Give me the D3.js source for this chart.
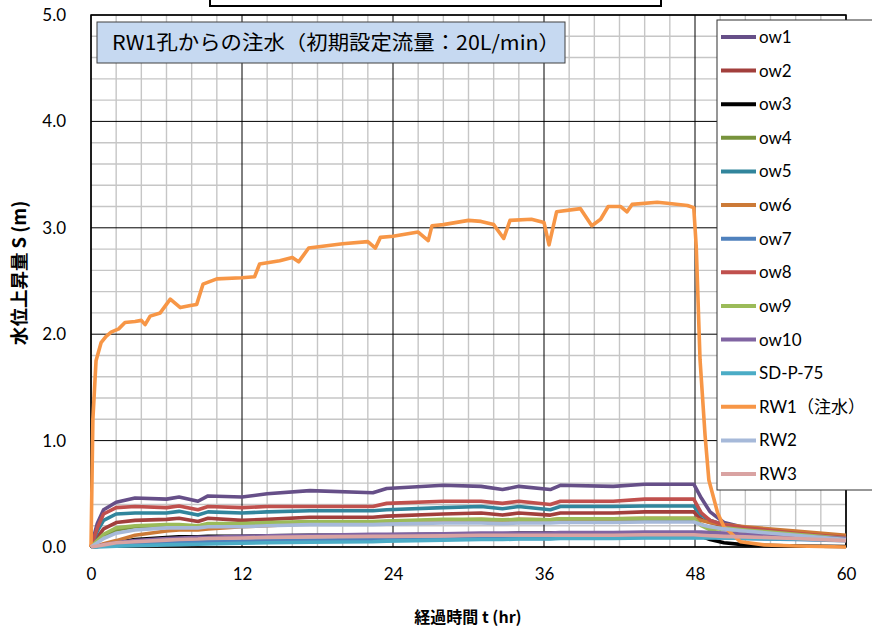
<!DOCTYPE html>
<html><head><meta charset="utf-8">
<script src="https://cdn.jsdelivr.net/npm/d3@7"></script>
<style>
html,body{margin:0;padding:0;background:#fff;}
svg{display:block;}
</style></head>
<body>
<svg id="chart" width="872" height="631"></svg>
<script>
// ---------- data ----------
const seriesNames = ["ow1","ow2","ow3","ow4","ow5","ow6","ow7","ow8","ow9","ow10","SD-P-75","RW1（注水）","RW2","RW3"];
const seriesColors = ["#664f88","#a23f3c","#000000","#77933c","#31859c","#cc7a37","#4f81bd","#c0504d","#9bbb59","#8064a2","#4bacc6","#f79646","#a6b9d9","#d9a3a2"];

// shared time grid (hr) for observation wells
const tGrid = [0,0.5,1,2,3.5,6,7,8.5,9.3,12,14,17.4,22.4,23.5,28,31,32.7,34,36.5,37.3,41.5,44,47.9,48.5,49.2,50.3,52,56,60];
const ow1  = [0,0.22,0.35,0.42,0.46,0.45,0.47,0.43,0.48,0.47,0.50,0.53,0.51,0.55,0.58,0.57,0.54,0.57,0.54,0.58,0.57,0.59,0.59,0.46,0.33,0.23,0.18,0.13,0.09];
const ow2  = [0,0.09,0.17,0.23,0.25,0.26,0.27,0.24,0.27,0.25,0.26,0.28,0.28,0.29,0.31,0.32,0.30,0.32,0.30,0.32,0.32,0.33,0.33,0.26,0.23,0.20,0.17,0.12,0.08];
const ow3  = [0,0.005,0.02,0.04,0.07,0.09,0.095,0.095,0.10,0.10,0.105,0.11,0.11,0.115,0.12,0.125,0.125,0.13,0.13,0.13,0.13,0.13,0.13,0.10,0.07,0.04,0.02,0.01,0.005];
const ow4  = [0,0.05,0.10,0.16,0.19,0.20,0.20,0.19,0.21,0.21,0.22,0.23,0.235,0.24,0.25,0.25,0.245,0.25,0.245,0.255,0.255,0.26,0.26,0.21,0.18,0.17,0.15,0.11,0.07];
const ow5  = [0,0.15,0.25,0.31,0.32,0.32,0.335,0.30,0.33,0.32,0.33,0.34,0.34,0.35,0.37,0.38,0.36,0.38,0.35,0.38,0.38,0.385,0.385,0.30,0.25,0.21,0.17,0.12,0.08];
const ow6  = [0,0.01,0.03,0.06,0.11,0.15,0.16,0.16,0.17,0.19,0.20,0.22,0.23,0.24,0.25,0.26,0.25,0.26,0.255,0.265,0.265,0.27,0.27,0.25,0.23,0.21,0.19,0.15,0.11];
const ow7  = [0,0.005,0.01,0.02,0.03,0.04,0.045,0.05,0.05,0.055,0.06,0.065,0.07,0.07,0.075,0.08,0.08,0.08,0.08,0.085,0.085,0.09,0.09,0.09,0.09,0.085,0.08,0.07,0.06];
const ow8  = [0,0.18,0.31,0.37,0.38,0.37,0.385,0.35,0.38,0.37,0.38,0.38,0.38,0.41,0.43,0.43,0.41,0.43,0.40,0.43,0.43,0.45,0.45,0.32,0.25,0.21,0.18,0.13,0.09];
const ow9  = [0,0.06,0.12,0.18,0.20,0.21,0.21,0.20,0.22,0.22,0.23,0.24,0.24,0.245,0.26,0.26,0.255,0.26,0.255,0.265,0.265,0.27,0.27,0.20,0.16,0.18,0.16,0.12,0.08];
const ow10 = [0,0.01,0.02,0.04,0.06,0.08,0.085,0.09,0.09,0.10,0.105,0.11,0.12,0.12,0.125,0.13,0.13,0.13,0.13,0.135,0.135,0.14,0.14,0.14,0.135,0.13,0.12,0.10,0.08];
const sdp75 = [0,0,0.003,0.008,0.012,0.02,0.022,0.026,0.028,0.035,0.04,0.045,0.05,0.055,0.065,0.07,0.07,0.075,0.075,0.08,0.08,0.085,0.085,0.085,0.085,0.085,0.08,0.075,0.065];
const rw2  = [0,0.04,0.08,0.13,0.16,0.18,0.18,0.18,0.19,0.19,0.20,0.21,0.21,0.215,0.225,0.225,0.22,0.225,0.225,0.23,0.23,0.235,0.235,0.21,0.19,0.17,0.15,0.11,0.07];
const rw3  = [0,0.01,0.02,0.04,0.05,0.065,0.07,0.075,0.08,0.085,0.09,0.095,0.10,0.10,0.105,0.11,0.11,0.11,0.11,0.11,0.11,0.115,0.115,0.11,0.105,0.10,0.095,0.08,0.06];

// injection well RW1 on its own time grid
const rw1T = [0,0.15,0.4,0.8,1.2,1.6,2.2,2.7,3.5,4.0,4.3,4.7,5.5,6.3,7.1,7.9,8.4,8.9,10,12,13.0,13.4,15,16.0,16.5,17.3,20,22.0,22.6,23.0,24,26,26.8,27.1,28,30,31,32.0,32.8,33.3,35,36.0,36.4,37.0,38.9,39.8,40.5,41.1,42.1,42.6,43.0,45.0,45.8,47.4,47.9,48.1,48.4,48.8,49.1,49.8,50.3,51.6,53.5,56,60];
const rw1V = [0,1.2,1.75,1.92,1.98,2.02,2.05,2.11,2.12,2.13,2.09,2.17,2.20,2.33,2.25,2.27,2.28,2.47,2.52,2.53,2.54,2.66,2.69,2.72,2.68,2.81,2.85,2.87,2.81,2.91,2.92,2.96,2.88,3.02,3.03,3.07,3.06,3.03,2.90,3.07,3.08,3.05,2.84,3.15,3.18,3.02,3.08,3.20,3.20,3.15,3.22,3.24,3.23,3.21,3.19,2.82,1.76,1.05,0.63,0.32,0.19,0.05,0.02,0.01,0.0];

const xTicks = [0,12,24,36,48,60];
const yTicks = [0,1,2,3,4,5];
const annotationText = "RW1孔からの注水（初期設定流量：20L/min）";
const xTitle = "経過時間 t (hr)";
const yTitle = "水位上昇量 S (m)";

// ---------- build ----------
const sTimes = [tGrid,tGrid,tGrid,tGrid,tGrid,tGrid,tGrid,tGrid,tGrid,tGrid,tGrid,rw1T,tGrid,tGrid];
const sVals = [ow1,ow2,ow3,ow4,ow5,ow6,ow7,ow8,ow9,ow10,sdp75,rw1V,rw2,rw3];
const series = seriesNames.map((n,i)=>({name:n,color:seriesColors[i],pts:sTimes[i].map((t,j)=>[t,sVals[i][j]])}));

const svg = d3.select("#chart");
const L=91,R=846,T=15,B=547;
const x = d3.scaleLinear().domain([0,60]).range([L,R]);
const y = d3.scaleLinear().domain([0,5]).range([B,T]);

const numFont = "Lato, 'Noto Sans', sans-serif";
const jpFont = "'Noto Sans CJK JP', 'Noto Sans', sans-serif";

// minor grid
const g = svg.append("g");
g.selectAll("line.vx").data(d3.range(0,61,2).filter(v=>v%12!==0)).join("line")
  .attr("x1",d=>x(d)).attr("x2",d=>x(d)).attr("y1",T).attr("y2",B)
  .attr("stroke","#c6c6c6").attr("stroke-width",1.4);
g.selectAll("line.hy").data(d3.range(1,25).map(v=>v*0.2).filter(v=>Math.abs(v-Math.round(v))>1e-6)).join("line")
  .attr("x1",L).attr("x2",R).attr("y1",d=>y(d)).attr("y2",d=>y(d))
  .attr("stroke","#c6c6c6").attr("stroke-width",1.4);
// major grid
g.selectAll("line.mx").data(xTicks).join("line")
  .attr("x1",d=>x(d)).attr("x2",d=>x(d)).attr("y1",T).attr("y2",B)
  .attr("stroke","#000").attr("stroke-width",1);
g.selectAll("line.my").data(yTicks).join("line")
  .attr("x1",L).attr("x2",R).attr("y1",d=>y(d)).attr("y2",d=>y(d))
  .attr("stroke","#000").attr("stroke-width",1);
svg.append("rect").attr("x",L).attr("y",T).attr("width",R-L).attr("height",B-T)
  .attr("fill","none").attr("stroke","#000").attr("stroke-width",1.5);

// axes labels via d3 axes
const xAxis = svg.append("g").attr("transform",`translate(0,${B})`)
  .call(d3.axisBottom(x).tickValues(xTicks).tickSize(0).tickPadding(21).tickFormat(d3.format("d")));
xAxis.select(".domain").remove();
xAxis.selectAll("text").attr("font-family",numFont).attr("font-size",17).attr("fill","#000");
const yAxis = svg.append("g").attr("transform",`translate(${L},0)`)
  .call(d3.axisLeft(y).tickValues(yTicks).tickSize(0).tickPadding(25).tickFormat(d3.format(".1f")));
yAxis.select(".domain").remove();
yAxis.selectAll("text").attr("font-family",numFont).attr("font-size",17).attr("fill","#000");

// lines
const line = d3.line().x(d=>x(d[0])).y(d=>y(d[1])).curve(d3.curveLinear);
svg.append("g").selectAll("path").data(series).join("path")
  .attr("d",d=>line(d.pts)).attr("fill","none")
  .attr("stroke",d=>d.color).attr("stroke-width",3.6).attr("stroke-linejoin","round");

// annotation box
svg.append("rect").attr("x",97).attr("y",22).attr("width",468).attr("height",41)
  .attr("fill","#c6d9f1").attr("stroke","#404040").attr("stroke-width",1);
svg.append("text").attr("x",112).attr("y",50).attr("font-family",jpFont).attr("font-size",20)
  .attr("textLength",448).attr("lengthAdjust","spacingAndGlyphs")
  .attr("fill","#000").text(annotationText);

// clipped title box at the very top
svg.append("rect").attr("x",210).attr("y",-20).attr("width",451).attr("height",26)
  .attr("fill","#fff").attr("stroke","#000").attr("stroke-width",2);

// legend
const lg = svg.append("g");
lg.append("rect").attr("x",717).attr("y",20).attr("width",170).attr("height",470)
  .attr("fill","#fff").attr("stroke","#303030").attr("stroke-width",1);
const ly = d3.scalePoint().domain(seriesNames).range([37,474]);
const items = lg.selectAll("g.it").data(series).join("g").attr("transform",d=>`translate(0,${ly(d.name)})`);
items.append("line").attr("x1",721).attr("x2",756).attr("y1",0).attr("y2",0)
  .attr("stroke",d=>d.color).attr("stroke-width",4);
items.append("text").attr("x",759).attr("y",6).attr("font-family","Lato, 'Noto Sans CJK JP', sans-serif")
  .attr("font-size",17).attr("fill","#000").text(d=>d.name);

// axis titles
svg.append("text").attr("x",468).attr("y",623).attr("text-anchor","middle")
  .attr("font-family",jpFont).attr("font-weight","bold").attr("font-size",16).text(xTitle);
svg.append("text").attr("transform","translate(26,273) rotate(-90)").attr("text-anchor","middle")
  .attr("font-family",jpFont).attr("font-weight","bold").attr("font-size",18.5).text(yTitle);
</script>
</body></html>
